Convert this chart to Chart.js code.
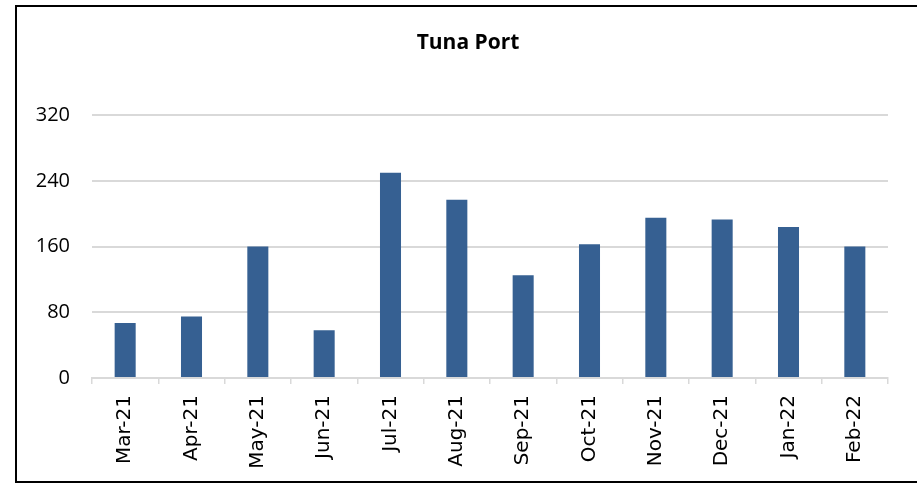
<!DOCTYPE html>
<html>
<head>
<meta charset="utf-8">
<script src="https://cdn.jsdelivr.net/npm/chart.js@4/dist/chart.umd.min.js"></script>
<style>
  html, body { margin: 0; padding: 0; background: #fff; overflow: hidden; }
  #wrap { position: relative; width: 917px; height: 487px; }
  #frame { position: absolute; left: 15px; top: 5px; width: 910px; height: 478px; border: 2px solid #000; box-sizing: border-box; pointer-events: none; }
  canvas { position: absolute; left: 0; top: 0; }
</style>
</head>
<body>
<div id="wrap">
  <canvas id="grafico_tuna" width="917" height="487"></canvas>
  <div id="frame"></div>
</div>
<script>
// dados
const meses = ['Mar-21', 'Apr-21', 'May-21', 'Jun-21', 'Jul-21', 'Aug-21',
               'Sep-21', 'Oct-21', 'Nov-21', 'Dec-21', 'Jan-22', 'Feb-22'];
const valores = [67, 75, 160, 58, 250, 217, 125, 163, 195, 193, 184, 160];
const ticksY = [0, 80, 160, 240, 320];
const titulo = 'Tuna Port';

const config = {
    type: 'bar',
    data: {
        labels: meses,
        datasets: [
            {
                label: titulo,
                data: valores,
                backgroundColor: '#366092',
                borderWidth: 0,
                barPercentage: 0.317,
                categoryPercentage: 1.0,
                yAxisID: 'y'
            }
        ]
    },
    options: {
        responsive: false,
        animation: false,
        layout: {
            padding: { left: 19, right: 0, top: 0, bottom: 0 }
        },
        plugins: {
            legend: { display: false },
            tooltip: { enabled: false },
            title: {
                display: true,
                text: titulo,
                color: '#000',
                font: { family: 'Open Sans', size: 21, weight: 'bold' },
                padding: { top: 30, bottom: 60 }
            }
        },
        scales: {
            x: {
                offset: true,
                grid: {
                    offset: true,
                    drawOnChartArea: false,
                    drawTicks: true,
                    tickLength: 6,
                    color: '#d9d9d9',
                    lineWidth: 1.5
                },
                border: { display: true, color: '#d9d9d9', width: 2 },
                ticks: {
                    color: '#000',
                    minRotation: 90,
                    maxRotation: 90,
                    padding: 11,
                    font: { family: 'DejaVu Sans', size: 20 }
                },
                afterFit: function(scale) { scale.height = 109; }
            },
            y: {
                min: 0,
                max: 320,
                afterBuildTicks: function(scale) {
                    scale.ticks = ticksY.map(v => ({ value: v }));
                },
                grid: {
                    drawTicks: false,
                    color: '#d9d9d9',
                    lineWidth: 2
                },
                border: { display: false },
                ticks: {
                    color: '#000',
                    padding: 22,
                    font: { family: 'Open Sans', size: 20 }
                },
                afterFit: function(scale) { scale.width = 73; }
            },
            // eixo vazio so para reservar a margem da direita
            yDireita: {
                position: 'right',
                grid: { display: false, drawTicks: false },
                border: { display: false },
                ticks: { display: false },
                afterFit: function(scale) { scale.width = 29; }
            }
        }
    }
};

const ctx = document.getElementById('grafico_tuna').getContext('2d');
new Chart(ctx, config);
</script>
</body>
</html>
